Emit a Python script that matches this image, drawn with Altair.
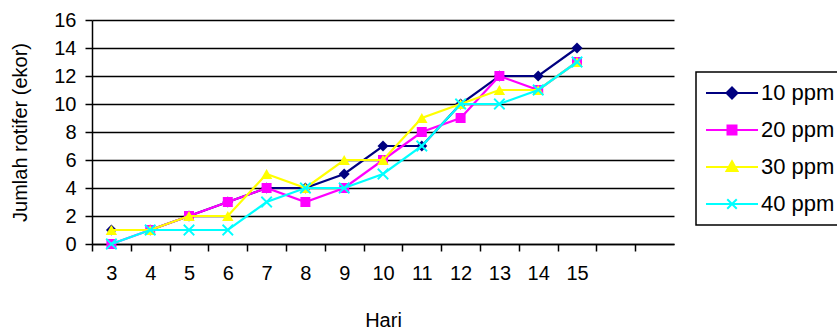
import altair as alt
import pandas as pd

# ---- data ----
days = [3, 4, 5, 6, 7, 8, 9, 10, 11, 12, 13, 14, 15]
series_names = ["10 ppm", "20 ppm", "30 ppm", "40 ppm"]
s10 = [1, 1, 2, 3, 4, 4, 5, 7, 7, 10, 12, 12, 14]
s20 = [0, 1, 2, 3, 4, 3, 4, 6, 8, 9, 12, 11, 13]
s30 = [1, 1, 2, 2, 5, 4, 6, 6, 9, 10, 11, 11, 13]
s40 = [0, 1, 1, 1, 3, 4, 4, 5, 7, 10, 10, 11, 13]
x_tick_values = [3, 4, 5, 6, 7, 8, 9, 10, 11, 12, 13, 14, 15, 16, 17, 18]
y_tick_values = [0, 2, 4, 6, 8, 10, 12, 14, 16]

colors = ["#000080", "#FF00FF", "#FFFF00", "#00FFFF"]
marker_shapes = ["diamond", "square", "triangle-up", "M-1,-1L1,1M-1,1L1,-1"]
marker_sizes = [120, 100, 130, 110]
legend_paths = [
    "M-5.2,0H5.2M-1.1,0L0,-1.1L1.1,0L0,1.1Z",
    "M-5.2,0H5.2M-0.9,-0.9H0.9V0.9H-0.9Z",
    "M-5.2,0H5.2M0,-1.15L1.1,0.8H-1.1Z",
    "M-5.2,0H5.2M-0.95,-0.95L0.95,0.95M-0.95,0.95L0.95,-0.95",
]

rows = []
for name, vals in zip(series_names, [s10, s20, s30, s40]):
    for d, v in zip(days, vals):
        rows.append({"Hari": d, "Jumlah": v, "Seri": name})
df = pd.DataFrame(rows)

FONT = "Liberation Sans"
W, H = 582, 224
half = W / 15 / 2

x_enc = alt.X(
    "Hari:Q",
    scale=alt.Scale(domain=[2.5, 17.5], nice=False, zero=False),
    axis=alt.Axis(
        values=x_tick_values,
        labelExpr="datum.value <= 15 ? datum.label : ''",
        tickOffset=-half,
        labelOffset=half,
        grid=False,
        domainColor="black",
        domainWidth=1.5,
        tickColor="black",
        tickWidth=1.5,
        tickSize=7,
        labelPadding=12,
        labelFont=FONT,
        labelFontSize=20,
        labelColor="black",
        labelFlush=False,
        labelOverlap=False,
        title="Hari",
        titleFont=FONT,
        titleFontSize=20,
        titleFontWeight="normal",
        titleColor="black",
        titleY=76,
        titleBaseline="middle",
    ),
)
y_enc = alt.Y(
    "Jumlah:Q",
    scale=alt.Scale(domain=[0, 16], nice=False),
    axis=alt.Axis(
        values=y_tick_values,
        grid=True,
        gridColor="black",
        gridWidth=1.5,
        gridOpacity=1,
        domainColor="black",
        domainWidth=1.5,
        tickColor="black",
        tickWidth=1.5,
        tickSize=7,
        labelPadding=9,
        labelFont=FONT,
        labelFontSize=20,
        labelColor="black",
        labelOverlap=False,
        title="Jumlah rotifer (ekor)",
        titleFont=FONT,
        titleFontSize=20,
        titleFontWeight="normal",
        titleColor="black",
        titleX=-72,
        titleY=H / 2,
        titleAngle=270,
        titleAlign="center",
        titleBaseline="middle",
    ),
)

base = alt.Chart(df)
layers = []
for name, col, shp, sz in zip(series_names, colors, marker_shapes, marker_sizes):
    sub = base.transform_filter(alt.datum.Seri == name)
    layers.append(
        sub.mark_line(color=col, strokeWidth=2.2).encode(x=x_enc, y=y_enc)
    )
    if shp.startswith("M"):
        pts = sub.mark_point(shape=shp, size=sz, filled=False, stroke=col, strokeWidth=1.8, opacity=1)
    else:
        pts = sub.mark_point(shape=shp, size=sz, filled=True, color=col, opacity=1)
    layers.append(pts.encode(x=x_enc, y=y_enc))

legend = alt.Legend(
    title=None,
    orient="none",
    legendX=604,
    legendY=52,
    padding=10,
    strokeColor="black",
    fillColor="white",
    symbolSize=100,
    symbolStrokeWidth=2,
    symbolOpacity=1,
    symbolOffset=15,
    labelOffset=18,
    labelFont=FONT,
    labelFontSize=22,
    labelColor="black",
    labelLimit=300,
    rowPadding=15,
)
legend_layer = base.mark_point(filled=True, opacity=0).encode(
    x=x_enc,
    y=y_enc,
    fill=alt.Fill("Seri:N", scale=alt.Scale(domain=series_names, range=colors), legend=legend),
    stroke=alt.Stroke("Seri:N", scale=alt.Scale(domain=series_names, range=colors), legend=legend),
    shape=alt.Shape("Seri:N", scale=alt.Scale(domain=series_names, range=legend_paths), legend=legend),
)
layers.append(legend_layer)

chart = (
    alt.layer(*layers)
    .properties(
        width=W,
        height=H,
        padding={"left": 92, "top": 20, "right": 163, "bottom": 89},
        autosize=alt.AutoSizeParams(type="none"),
        background="white",
    )
    .configure_view(strokeWidth=0)
    .configure_legend(strokeWidth=1.5)
)

chart.save("out.html", embed_options={"renderer": "svg", "actions": False})
